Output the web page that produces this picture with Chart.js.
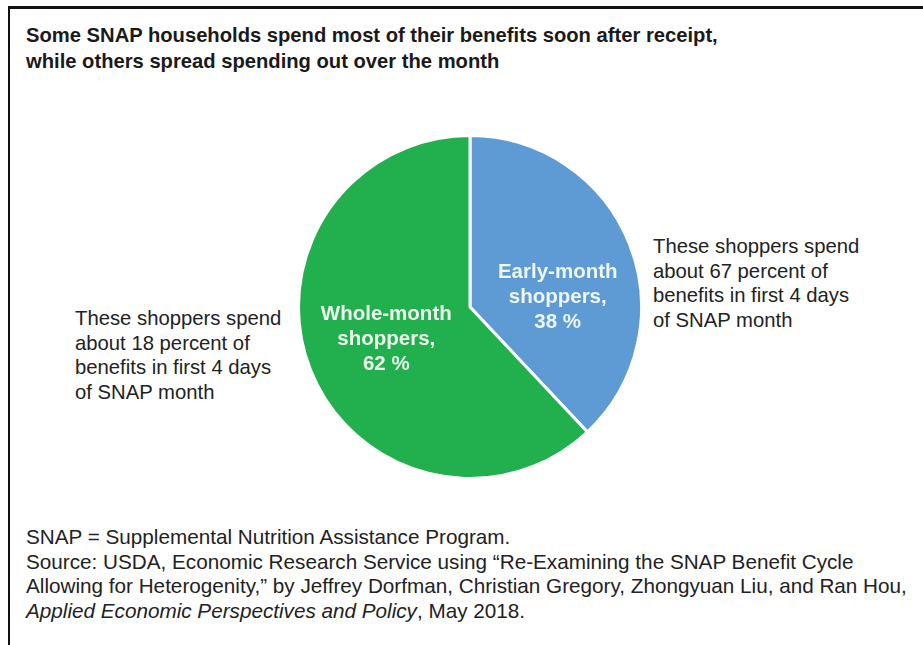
<!DOCTYPE html>
<html>
<head>
<meta charset="utf-8">
<script src="https://cdn.jsdelivr.net/npm/chart.js@4"></script>
<style>
  body { margin: 0; background: #fff; width: 923px; height: 645px; position: relative; overflow: hidden;
         font-family: "Liberation Sans", Arial, sans-serif; color: #222; }
  .frame { position: absolute; left: 8px; top: 6px; width: 930px; height: 700px;
           border-left: 2px solid #111; border-top: 3px solid #111; }
  .title { position: absolute; left: 26px; top: 22px; font-weight: bold; font-size: 20.2px; line-height: 26px; color: #1a1a1a; }
  .note { position: absolute; font-size: 20.3px; line-height: 24.5px; color: #222; }
  .foot { position: absolute; left: 26px; top: 525px; font-size: 20.7px; line-height: 24.5px; color: #222; }
  #wrap { position: absolute; left: 297px; top: 134px; width: 346px; height: 346px; }
</style>
</head>
<body>
<div class="frame"></div>
<div class="title">Some SNAP households spend most of their benefits soon after receipt,<br>while others spread spending out over the month</div>
<div class="note" style="left:653px; top:234px;">These shoppers spend<br>about 67 percent of<br>benefits in first 4 days<br>of SNAP month</div>
<div class="note" style="left:75px; top:306px;">These shoppers spend<br>about 18 percent of<br>benefits in first 4 days<br>of SNAP month</div>
<div class="foot">SNAP = Supplemental Nutrition Assistance Program.<br>Source: USDA, Economic Research Service using “Re-Examining the SNAP Benefit Cycle<br>Allowing for Heterogenity,” by Jeffrey Dorfman, Christian Gregory, Zhongyuan Liu, and Ran Hou,<br><i>Applied Economic Perspectives and Policy</i>, May 2018.</div>
<div id="wrap"><canvas id="myChart" width="346" height="346"></canvas></div>
<script>
var groups = ["Early-month shoppers", "Whole-month shoppers"];
var labelLines = [["Early-month", "shoppers,"], ["Whole-month", "shoppers,"]];
var shares = [38, 62];
var sliceColors = ["#5e9bd4", "#22b04e"];

// writes the name and percent inside each slice
var sliceLabels = {
    id: "sliceLabels",
    afterDatasetsDraw: function(chart, args, opts) {
        var ctx = chart.ctx;
        var meta = chart.getDatasetMeta(0);
        ctx.save();
        ctx.fillStyle = "#eef6ee";
        ctx.font = "bold 20.5px 'Liberation Sans', Arial, sans-serif";
        ctx.textAlign = "center";
        ctx.textBaseline = "middle";
        meta.data.forEach(function(arc, i) {
            var p = arc.tooltipPosition();
            var lines = labelLines[i].concat([shares[i] + " %"]);
            var y0 = p.y + opts.dy[i] - 25;
            lines.forEach(function(t, k) {
                ctx.fillText(t, p.x + opts.dx[i], y0 + k * 25);
            });
        });
        ctx.restore();
    }
};

new Chart("myChart", {
    type: "pie",
    data: {
        labels: groups,
        datasets: [{
            data: shares,
            backgroundColor: sliceColors,
            borderColor: "#ffffff",
            borderWidth: 3
        }]
    },
    options: {
        responsive: false,
        animation: false,
        events: [],
        layout: { padding: 0 },
        plugins: {
            legend: { display: false },
            tooltip: { enabled: false },
            sliceLabels: { dx: [8, -4], dy: [22, 1] }
        }
    },
    plugins: [sliceLabels]
});
</script>
</body>
</html>
